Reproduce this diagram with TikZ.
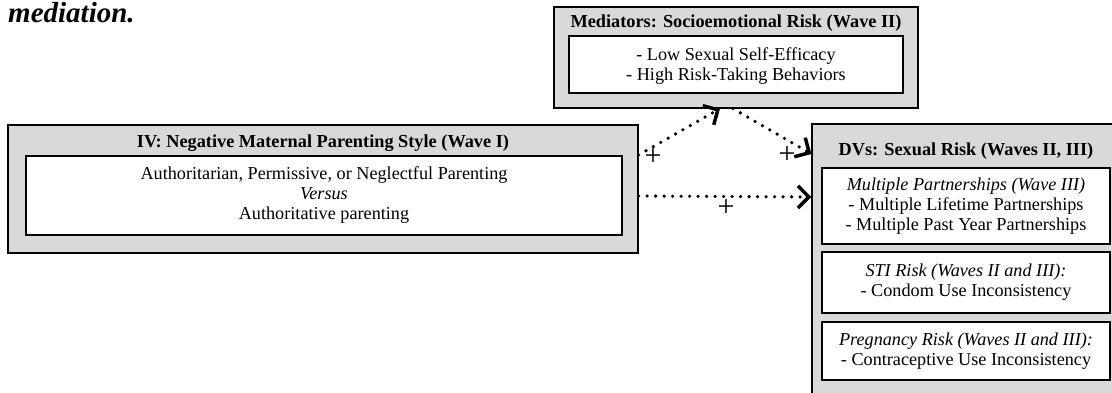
\documentclass[tikz,border=0pt]{standalone}
\usepackage{fontspec}
\setmainfont{Liberation Serif}
\usetikzlibrary{arrows.meta, positioning}
\definecolor{gris}{RGB}{217,217,217}

\begin{document}
\begin{tikzpicture}[x=1pt, y=-1pt]
  \tikzstyle{cadre}=[draw, line width=1.2pt, fill=gris, inner sep=0pt]
  \tikzstyle{boite}=[draw, line width=1.2pt, fill=white, inner sep=0pt]
  \tikzstyle{texte}=[font=\fontsize{18.2}{20}\selectfont, align=center, inner sep=0pt]
  \tikzstyle{titre}=[texte, font=\fontsize{18.3}{20}\selectfont\bfseries]
  \tikzstyle{fleche}=[-{Straight Barb[length=11pt,width=22pt,line width=3.5pt]},
    line width=3.6pt, line cap=round, dash pattern=on 0pt off 8.5pt]
  \tikzstyle{signe}=[font=\fontsize{30}{30}\selectfont, inner sep=0pt]
  \useasboundingbox (0,0) rectangle (1112,393);
  \clip (0,0) rectangle (1112,393);
  % legende
  \node[font=\fontsize{29}{29}\selectfont\bfseries\itshape, anchor=base west,
    inner sep=0pt] (legende) at (8,23) {mediation.};
  % IV
  \node[cadre, minimum width=630, minimum height=128] (iv) at (323,189) {};
  \node[boite, minimum width=596, minimum height=79] (ivint) at (324,195.5) {};
  \node[titre] (ivtitre) at (323,143) {IV: Negative Maternal Parenting Style (Wave I)};
  \node[texte] (ivtexte) at (ivint) {Authoritarian, Permissive, or Neglectful Parenting\\
    \textit{Versus}\\Authoritative parenting};
  % mediateurs
  \node[cadre, minimum width=364, minimum height=101] (med) at (736,57.5) {};
  \node[boite, minimum width=334, minimum height=57] (medint) at (736,64.5) {};
  \node[titre] (medtitre) at (736,23) {Mediators: Socioemotional Risk (Wave II)};
  \node[texte] (medtexte) at ([yshift=-2]medint.center) {- Low Sexual Self-Efficacy\\
    - High Risk-Taking Behaviors};
  % DVs
  \node[cadre, minimum width=315, minimum height=290] (dv) at (969.5,269) {};
  \node[titre] (dvtitre) at (966,151) {DVs: Sexual Risk (Waves II, III)};
  \node[boite, minimum width=288, minimum height=76] (dvun) at (966,206) {};
  \node[boite, minimum width=288, minimum height=61] (dvdeux) at (966,282.5) {};
  \node[boite, minimum width=288, minimum height=58] (dvtrois) at (966,351) {};
  \node[texte] (dvuntexte) at (dvun) {\textit{Multiple Partnerships (Wave III)}\\
    - Multiple Lifetime Partnerships\\- Multiple Past Year Partnerships};
  \node[texte] (dvdeuxtexte) at (dvdeux) {\textit{STI Risk (Waves II and III):}\\
    - Condom Use Inconsistency};
  \node[texte] (dvtroistexte) at (dvtrois) {\textit{Pregnancy Risk (Waves II and III):}\\
    - Contraceptive Use Inconsistency};
  % fleches
  \coordinate (d1) at (iv.east |- 0,155);
  \coordinate (d3) at (iv.east |- 0,196);
  \coordinate (m1) at (med.south -| 720,0);
  \coordinate (m2) at (med.south -| 733,0);
  \coordinate (a2) at (dv.west |- 0,154);
  \coordinate (a3) at (dv.west |- 0,197);
  \draw[fleche] (d1) -- (m1);
  \draw[fleche] (m2) -- (a2);
  \draw[fleche] (d3) -- (a3);
  \node[signe] (p1) at (653,157) {+};
  \node[signe] (p2) at (787,155) {+};
  \node[signe] (p3) at (726,208) {+};
\end{tikzpicture}
\end{document}
